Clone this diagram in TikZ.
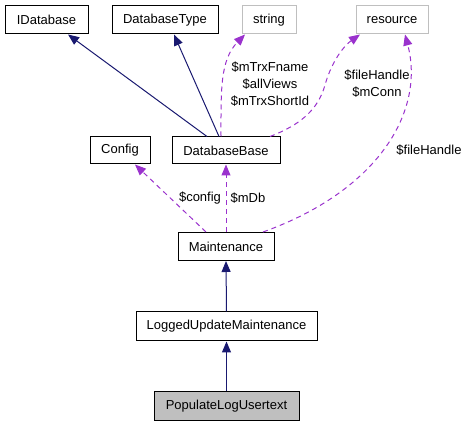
\documentclass[tikz,border=0pt]{standalone}
\usepackage{fontspec}
\setmainfont{Liberation Sans}
\usetikzlibrary{arrows.meta}
\definecolor{navy}{RGB}{25,25,112}
\definecolor{orchid}{RGB}{154,50,205}
\definecolor{lgray}{RGB}{191,191,191}
\begin{document}
\begin{tikzpicture}[x=1pt,y=-1pt,
  box/.style={draw=black,line width=1pt,minimum height=28pt,inner sep=0pt,font=\fontsize{13}{17}\selectfont},
  gbox/.style={box,draw=lgray},
  inh/.style={draw=navy,line width=1pt,-{Triangle[length=11pt,width=9pt]},color=navy},
  use/.style={draw=orchid,line width=1pt,dash pattern=on 5pt off 4pt,-{Triangle[length=11pt,width=9pt]},color=orchid},
  lbl/.style={font=\fontsize{13}{17}\selectfont,align=center,inner sep=0pt,text=black}]
\useasboundingbox (0,0) rectangle (467,427);
\node[box,minimum width=83pt] (idb) at (46.5,20) {IDatabase};
\node[box,minimum width=106pt] (dbt) at (165,20) {DatabaseType};
\node[gbox,minimum width=54pt] (str) at (269,20) {string};
\node[gbox,minimum width=72pt] (res) at (392,20) {resource};
\node[box,minimum width=60pt,minimum height=27pt] (cfg) at (120,150.5) {Config};
\node[box,minimum width=108pt,minimum height=27pt] (dbb) at (226,150.5) {DatabaseBase};
\node[box,minimum width=96pt] (mnt) at (226,246.5) {Maintenance};
\node[box,minimum width=181pt,minimum height=29pt] (lum) at (226.5,326.5) {LoggedUpdateMaintenance};
\node[box,minimum width=145pt,minimum height=29pt,fill=lgray] (plu) at (226.5,406.5) {PopulateLogUsertext};
% inheritance
\draw[inh] ([xshift=-19pt]dbb.north) -- ([xshift=21.5pt]idb.south);
\draw[inh] ([xshift=-7pt]dbb.north) -- ([xshift=9pt]dbt.south);
\draw[inh] (lum.north) -- (mnt.south);
\draw[inh] (plu.north) -- (lum.south);
% usage
\draw[use] ([xshift=-5pt]dbb.north) .. controls (221,90) and (220,60) .. ([xshift=-24pt]str.south);
\draw[use] ([xshift=44pt]dbb.north) .. controls (300,125) and (318,110) .. (325,85) .. controls (332,60) and (345,45) .. ([xshift=-32pt]res.south);
\draw[use] ([xshift=37pt]mnt.north) .. controls (380,190) and (425,110) .. ([xshift=13pt]res.south);
\draw[use] ([xshift=-20pt]mnt.north) -- ([xshift=15pt]cfg.south);
\draw[use] (mnt.north) -- (dbb.south);
% labels
\node[lbl] (l1) at (270,84) {\$mTrxFname\\\$allViews\\\$mTrxShortId};
\node[lbl] (l2) at (377,84) {\$fileHandle\\\$mConn};
\node[lbl] (l3) at (429,150) {\$fileHandle};
\node[lbl] (l4) at (200,198) {\$config};
\node[lbl] (l5) at (248,198) {\$mDb};
\end{tikzpicture}
\end{document}
